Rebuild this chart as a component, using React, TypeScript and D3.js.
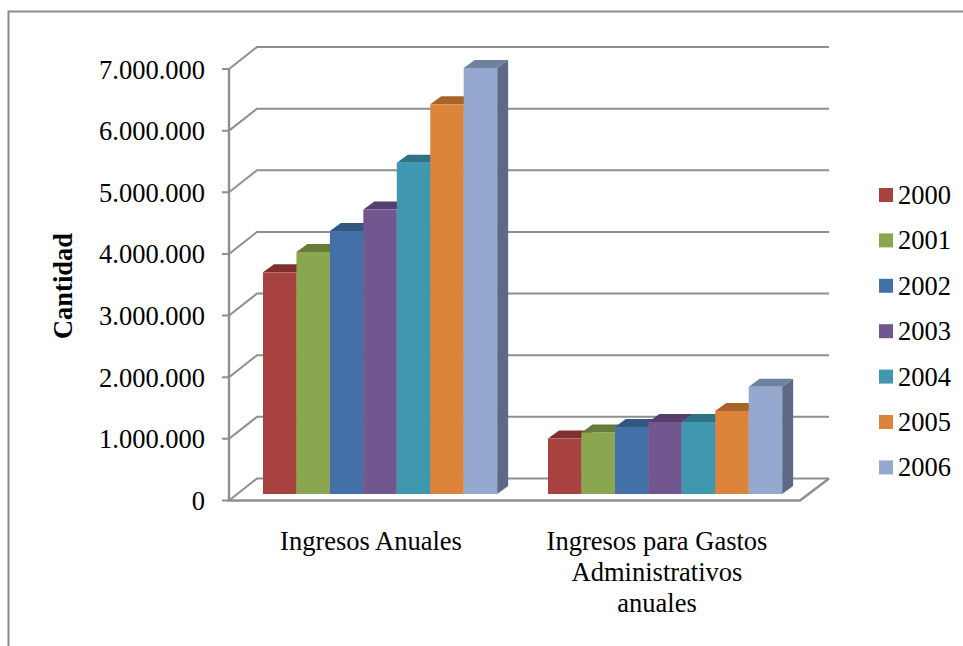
import React from "react";
import * as d3 from "d3";

const W = 963, H = 646;
const years = ["2000", "2001", "2002", "2003", "2004", "2005", "2006"];
const categories = ["Ingresos Anuales", "Ingresos para Gastos Administrativos anuales"];
const ingresosAnuales = [3600000, 3930000, 4270000, 4620000, 5380000, 6330000, 6920000];
const ingresosGastos = [900000, 1000000, 1090000, 1170000, 1170000, 1350000, 1740000];
const yTicks = [0, 1000000, 2000000, 3000000, 4000000, 5000000, 6000000, 7000000];
const faceColors = ["#a8423f", "#8aa64f", "#4470a8", "#72568f", "#3f98b0", "#dc843c", "#95a9d0"];
const topColors = ["#7f302e", "#667b39", "#31577f", "#563f6c", "#2d7285", "#a8632a", "#6f81a0"];
const sideColors = ["#7a2f2d", "#627637", "#2f5279", "#523d68", "#2b6d80", "#a25f28", "#5c6a85"];
const axisTitle = "Cantidad";
const catLines = [["Ingresos Anuales"], ["Ingresos para Gastos", "Administrativos", "anuales"]];
const fontFamily = "'Liberation Serif', serif";
const gridColor = "#8f8f8f";

const y = d3.scaleLinear().domain([0, 7000000]).range([500.5, 69]);
const yBar = d3.scaleLinear().domain([0, 7000000]).range([494, 63]);
const series = [ingresosAnuales, ingresosGastos];
const groupStart = [263, 548];
const barW = 33.45;
const depthX = 28, depthY = 22;
const barDX = 11, barDY = 8;
const fmt = (v: number) => d3.format(",")(v).replace(/,/g, ".");

export default function App() {
  return (
    <svg width={W} height={H} style={{ position: "absolute", left: 0, top: 0, background: "#fff" }} fontFamily={fontFamily}>
      <path d={`M8.5 ${H}V11.5H${W}`} fill="none" stroke="#8c8c8c" strokeWidth={2} />
      {yTicks.map((t) => {
        const p = y(t);
        return (
          <g key={t}>
            <path
              d={`M222 ${p}H229L${229 + depthX} ${p - depthY}H829`}
              fill="none"
              stroke={gridColor}
              strokeWidth={2}
            />
            <text x={205} y={p + 9.5} textAnchor="end" fontSize={26.5} fill="#000">{fmt(t)}</text>
          </g>
        );
      })}
      <path d={`M229 ${y(7000000)}V${y(0)}H800L829 ${y(0) - depthY}`} fill="none" stroke={gridColor} strokeWidth={2.4} />
      {series.map((vals, gi) =>
        vals.map((v, i) => {
          const x0 = groupStart[gi] + i * barW;
          const x1 = x0 + barW;
          const t = yBar(v);
          const b = yBar(0);
          return (
            <g key={`${gi}-${i}`}>
              <path d={`M${x1} ${t}L${x1 + barDX} ${t - barDY}V${b - barDY}L${x1} ${b}Z`} fill={sideColors[i]} />
              <path d={`M${x0} ${t}L${x0 + barDX} ${t - barDY}H${x1 + barDX}L${x1} ${t}Z`} fill={topColors[i]} />
              <rect x={x0} y={t} width={barW} height={b - t} fill={faceColors[i]} />
            </g>
          );
        })
      )}
      <text transform="translate(72,286) rotate(-90)" textAnchor="middle" fontSize={26.5} fontWeight="bold" fill="#000">{axisTitle}</text>
      {catLines.map((lines, gi) =>
        lines.map((l, li) => (
          <text key={l} x={gi === 0 ? 371 : 657} y={550 + li * 31} textAnchor="middle" fontSize={26.5} fill="#000">{l}</text>
        ))
      )}
      {years.map((yr, i) => (
        <g key={yr}>
          <rect x={879} y={188 + i * 45.4} width={14} height={14} fill={faceColors[i]} />
          <text x={898} y={204 + i * 45.4} fontSize={26.5} fill="#000">{yr}</text>
        </g>
      ))}
    </svg>
  );
}
